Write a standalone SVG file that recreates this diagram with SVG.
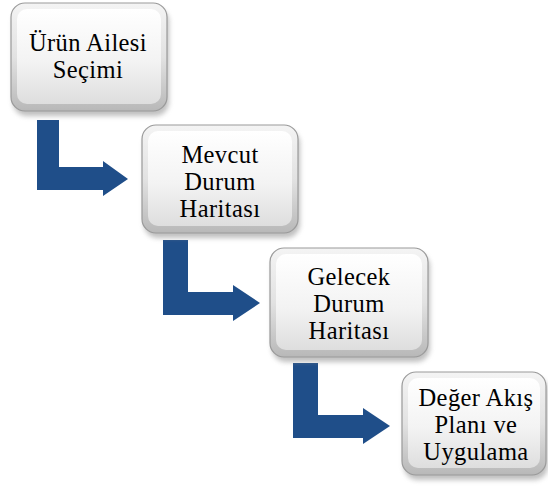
<svg xmlns="http://www.w3.org/2000/svg" width="548" height="489" viewBox="0 0 548 489">
  <defs>
    <linearGradient id="rim" x1="0" y1="0" x2="0" y2="1">
      <stop offset="0" stop-color="#f4f4f4"/>
      <stop offset="0.5" stop-color="#e2e2e2"/>
      <stop offset="1" stop-color="#b8b8b8"/>
    </linearGradient>
    <linearGradient id="face" x1="0" y1="0" x2="0" y2="1">
      <stop offset="0" stop-color="#ffffff"/>
      <stop offset="0.55" stop-color="#f3f3f3"/>
      <stop offset="1" stop-color="#dedede"/>
    </linearGradient>
    <filter id="shadow" x="-20%" y="-20%" width="140%" height="150%">
      <feGaussianBlur stdDeviation="2.5"/>
    </filter>
  </defs>
  <style>
    .shade { fill: #8c8c8c; opacity: 0.55; filter: url(#shadow); }
    .rim { fill: url(#rim); stroke: #9a9a9a; stroke-width: 1.2; }
    .face { fill: url(#face); }
    .label { font-family: "Liberation Serif", Tinos, "Noto Serif", FreeSerif, "Times New Roman", Times, "DejaVu Serif", serif; font-weight: normal; font-size: 24.5px; letter-spacing: 0.4px; fill: #000; text-anchor: middle; }
    .arrow { fill: #1f4e89; }
  </style>

  <rect width="548" height="489" fill="#ffffff"/>

  <!-- connectors: elbow arrows between successive steps -->
  <g id="connectors">
    <polygon class="arrow" points="37,120 59,120 59,167 103,167 103,161 128,179 103,196 103,190 37,190"/>
    <polygon class="arrow" points="163,240 188,240 188,292 233,292 233,285 260,303 233,321 233,315 163,315"/>
    <polygon class="arrow" points="293,363 318,363 318,415 363,415 363,408 390,426 363,444 363,438 293,438"/>
  </g>

  <g id="step1">
    <rect class="shade" x="13" y="8" width="156" height="108" rx="14"/>
    <rect class="rim" x="11" y="3" width="156" height="108" rx="14"/>
    <rect class="face" x="17" y="9" width="144" height="95" rx="10"/>
    <text class="label" x="88" y="51">Ürün Ailesi</text>
    <text class="label" x="88" y="78">Seçimi</text>
  </g>

  <g id="step2">
    <rect class="shade" x="144" y="130" width="156" height="108" rx="14"/>
    <rect class="rim" x="142" y="125" width="156" height="108" rx="14"/>
    <rect class="face" x="148" y="131" width="144" height="95" rx="10"/>
    <text class="label" x="220" y="163">Mevcut</text>
    <text class="label" x="220" y="190">Durum</text>
    <text class="label" x="220" y="217">Haritası</text>
  </g>

  <g id="step3">
    <rect class="shade" x="272" y="253" width="158" height="109" rx="14"/>
    <rect class="rim" x="270" y="248" width="158" height="109" rx="14"/>
    <rect class="face" x="276" y="254" width="146" height="96" rx="10"/>
    <text class="label" x="349" y="285">Gelecek</text>
    <text class="label" x="349" y="312">Durum</text>
    <text class="label" x="349" y="339">Haritası</text>
  </g>

  <g id="step4">
    <rect class="shade" x="404" y="377" width="144" height="103" rx="14"/>
    <rect class="rim" x="402" y="372" width="144" height="103" rx="14"/>
    <rect class="face" x="408" y="378" width="132" height="90" rx="10"/>
    <text class="label" x="476" y="406">Değer Akış</text>
    <text class="label" x="476" y="433">Planı ve</text>
    <text class="label" x="476" y="460">Uygulama</text>
  </g>
</svg>
